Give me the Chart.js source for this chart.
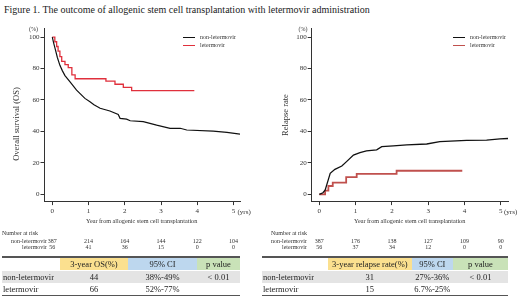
<!DOCTYPE html>
<html>
<head>
<meta charset="utf-8">
<script src="https://cdn.jsdelivr.net/npm/chart.js@4.4.1/dist/chart.umd.min.js"></script>
<style>
  body { margin: 0; background: #fff; font-family: "Liberation Serif", "Times New Roman", serif; color: #222; }
  #page { position: relative; width: 520px; height: 299px; overflow: hidden; }
  .abs { position: absolute; white-space: nowrap; line-height: 1; }
  canvas { position: absolute; }
</style>
</head>
<body>
<div id="page">
  <div class="abs" style="left:4px;top:5px;font-size:10px;color:#222">Figure 1. The outcome of allogenic stem cell transplantation with letermovir administration</div>
  <canvas id="osChart" width="260" height="210" style="left:0;top:20px"></canvas>
  <canvas id="relChart" width="260" height="210" style="left:260px;top:20px"></canvas>
  <div id="overlay"></div>
</div>
<script>
// tick values
const xTicks = [0, 1, 2, 3, 4, 5];
const yTicks = [0, 20, 40, 60, 80, 100];

// overall survival, non-letermovir (year, %)
const osNonYears = [0, 0.04, 0.08, 0.14, 0.21, 0.28, 0.35, 0.49, 0.67, 0.9, 1.04, 1.15, 1.32, 1.59, 1.82, 1.87, 2.05, 2.15, 2.51, 2.88, 3.25, 3.53, 3.71, 4.44, 4.82, 5.18];
const osNonVals  = [100, 96, 92.5, 87, 82, 78.5, 75.5, 71.5, 66.3, 61, 58.9, 57, 54.7, 53, 50.8, 48.3, 47.8, 46.8, 46.2, 44, 42, 42, 40.9, 40.2, 39.4, 38.3];
// overall survival, letermovir (steps)
const osLetYears = [0, 0.07, 0.12, 0.16, 0.21, 0.26, 0.35, 0.44, 0.54, 0.63, 1.48, 1.73, 1.96, 2.19, 3.92];
const osLetVals  = [100, 97, 94, 91, 87.5, 84.5, 82.5, 80.5, 76, 73.5, 72, 70, 68, 66, 66];

// relapse rate, non-letermovir
const relNonYears = [0, 0.1, 0.16, 0.25, 0.3, 0.43, 0.62, 0.75, 0.94, 1.12, 1.3, 1.58, 1.72, 2.04, 2.41, 2.96, 3.32, 4.06, 4.61, 4.98, 5.2];
const relNonVals  = [0, 1, 2.7, 9.5, 13.4, 15.9, 18, 20.8, 25, 26.5, 27.6, 28.3, 30.3, 30.8, 31.5, 32, 33.5, 34.3, 34.5, 35.2, 35.5];
// relapse rate, letermovir (steps)
const relLetYears = [0, 0.16, 0.25, 0.37, 0.74, 1.03, 2.13, 3.94];
const relLetVals  = [0, 2.3, 5.3, 7.5, 11, 13, 15, 15];

// number at risk
const riskYears = [0, 1, 2, 3, 4, 5];
const osRiskNon = [387, 214, 164, 144, 122, 104];
const osRiskLet = [56, 41, 36, 15, 0, 0];
const relRiskNon = [387, 176, 138, 127, 109, 90];
const relRiskLet = [56, 37, 34, 12, 0, 0];

// summary tables
const groups = ["non-letermovir", "letermovir"];
const osHead = ["3-year OS(%)", "95% CI", "p value"];
const osRows = [["44", "38%-49%", "< 0.01"], ["66", "52%-77%", ""]];
const relHead = ["3-year relapse rate(%)", "95% CI", "p value"];
const relRows = [["31", "27%-36%", "< 0.01"], ["15", "6.7%-25%", ""]];

const serif = '"Liberation Serif", "Times New Roman", serif';

function pts(xs, ys) {
  return xs.map((x, i) => ({ x: x, y: ys[i] }));
}

function makeChart(id, sets, opt) {
  return new Chart(document.getElementById(id), {
    type: 'line',
    data: { datasets: sets },
    options: {
      responsive: false,
      animation: false,
      layout: { padding: { top: 8.4, right: opt.padRight, left: 0, bottom: 0 } },
      plugins: { legend: { display: false }, tooltip: { enabled: false } },
      elements: { point: { radius: 0 }, line: { tension: 0 } },
      scales: {
        x: {
          type: 'linear', min: opt.xmin, max: opt.xmax,
          afterBuildTicks: s => { s.ticks = xTicks.map(v => ({ value: v })); },
          afterFit: s => { s.height = 28.9; },
          grid: { drawOnChartArea: false, tickLength: 4, color: '#333' },
          border: { display: true, color: '#333', width: 1 },
          ticks: { font: { family: serif, size: 7 }, color: '#333', padding: 2, maxRotation: 0 }
        },
        y: {
          min: -4.3, max: 105.5,
          afterBuildTicks: s => { s.ticks = yTicks.map(v => ({ value: v })); },
          afterFit: s => { s.width = opt.yWidth; },
          grid: { drawOnChartArea: false, tickLength: 4, color: '#333' },
          border: { display: true, color: '#333', width: 1 },
          ticks: { font: { family: serif, size: 7 }, color: '#333', padding: 1 }
        }
      }
    }
  });
}

const osChart = makeChart('osChart', [
  { label: 'non-letermovir', data: pts(osNonYears, osNonVals), borderColor: '#111', borderWidth: 1.2 },
  { label: 'letermovir', data: pts(osLetYears, osLetVals), borderColor: '#e0303c', borderWidth: 1.3, stepped: true }
], { xmin: -0.215, xmax: 5.18, padRight: 20, yWidth: 44.5 });

const relChart = makeChart('relChart', [
  { label: 'non-letermovir', data: pts(relNonYears, relNonVals), borderColor: '#111', borderWidth: 1.3 },
  { label: 'letermovir', data: pts(relLetYears, relLetVals), borderColor: '#c0504d', borderWidth: 1.8, stepped: true }
], { xmin: -0.21, xmax: 5.2, padRight: 12, yWidth: 51.7 });

// text overlays
const overlay = document.getElementById('overlay');
function txt(s, x, y, css) {
  const d = document.createElement('div');
  d.className = 'abs';
  d.textContent = s;
  d.style.left = x + 'px';
  d.style.top = y + 'px';
  if (css) d.style.cssText += css;
  overlay.appendChild(d);
  return d;
}
function box(x, y, w, h, bg) {
  const d = document.createElement('div');
  d.style.cssText = `position:absolute;left:${x}px;top:${y}px;width:${w}px;height:${h}px;background:${bg}`;
  overlay.appendChild(d);
}

function panel(chart, left, o) {
  // axis captions
  txt('(%)', o.pctX, 26, 'font-size:6px;color:#333;transform:translateX(-50%)');
  txt('(yrs)', o.yrsX, 208.5, 'font-size:7px;color:#333');
  txt('Year from allogenic stem cell transplantation', o.xTitleX, 218, 'font-size:6.2px;color:#333;transform:translateX(-50%)');
  txt(o.yTitle, o.yTitleX, o.yTitleY, 'font-size:8.5px;color:#333;transform:translate(-50%,-50%) rotate(-90deg)');
  // legend
  box(o.legX, 36.5, 12, 1.2, '#111');
  box(o.legX, 44.5, 12, 1.3, o.red);
  txt('non-letermovir', o.legX + 17, 34, 'font-size:6px;color:#333');
  txt('letermovir', o.legX + 17, 42, 'font-size:6px;color:#333');
  // number at risk
  txt('Number at risk', o.nrX, 230, 'font-size:6px;color:#333');
  txt('non-letermovir', 0, 238, `font-size:6px;color:#333;width:${o.labRight}px;text-align:right;left:${left}px`);
  txt('letermovir', 0, 244, `font-size:6px;color:#333;width:${o.labRight}px;text-align:right;left:${left}px`);
  riskYears.forEach((yr, i) => {
    const px = left + chart.scales.x.getPixelForValue(yr);
    txt(String(o.riskNon[i]), px, 238, 'font-size:6px;color:#333;transform:translateX(-50%)');
    txt(String(o.riskLet[i]), px, 244, 'font-size:6px;color:#333;transform:translateX(-50%)');
  });
  // summary table
  const c = o.cols; // column edges
  const hdColors = ['#fbe08f', '#bdd7ee', '#c9e2b8'];
  box(c[0], 256, c[4] - c[0], 1.5, '#555');
  for (let k = 0; k < 3; k++) {
    box(c[k + 1], 258, c[k + 2] - c[k + 1], 12, hdColors[k]);
    txt(o.head[k], c[k + 1], 258, `width:${c[k + 2] - c[k + 1]}px;text-align:center;font-size:8.5px;line-height:12px`);
  }
  box(c[0], 270.5, c[4] - c[0], 0.8, '#999');
  box(c[0], 271, c[4] - c[0], 12, '#e4e4e4');
  box(c[0], 294.5, c[4] - c[0], 1, '#555');
  o.rows.forEach((r, j) => {
    const top = 271 + j * 12;
    txt(groups[j], c[0] + 1, top, 'font-size:8.5px;line-height:12px');
    r.forEach((v, k) => {
      txt(v, c[k + 1], top, `width:${c[k + 2] - c[k + 1]}px;text-align:center;font-size:8.5px;line-height:12px`);
    });
  });
}

panel(osChart, 0, {
  pctX: 33.5, yrsX: 237.5, xTitleX: 141.7, yTitle: 'Overall survival (OS)', yTitleX: 16, yTitleY: 124,
  legX: 183, red: '#e0303c', nrX: 2, labRight: 47,
  riskNon: osRiskNon, riskLet: osRiskLet,
  cols: [2, 60, 128, 197, 240], head: osHead, rows: osRows
});
panel(relChart, 260, {
  pctX: 303, yrsX: 504, xTitleX: 409.7, yTitle: 'Relapse rate', yTitleX: 285, yTitleY: 115,
  legX: 453, red: '#c0504d', nrX: 271, labRight: 47,
  riskNon: relRiskNon, riskLet: relRiskLet,
  cols: [262, 328, 411.7, 453, 508], head: relHead, rows: relRows
});
</script>
</body>
</html>
